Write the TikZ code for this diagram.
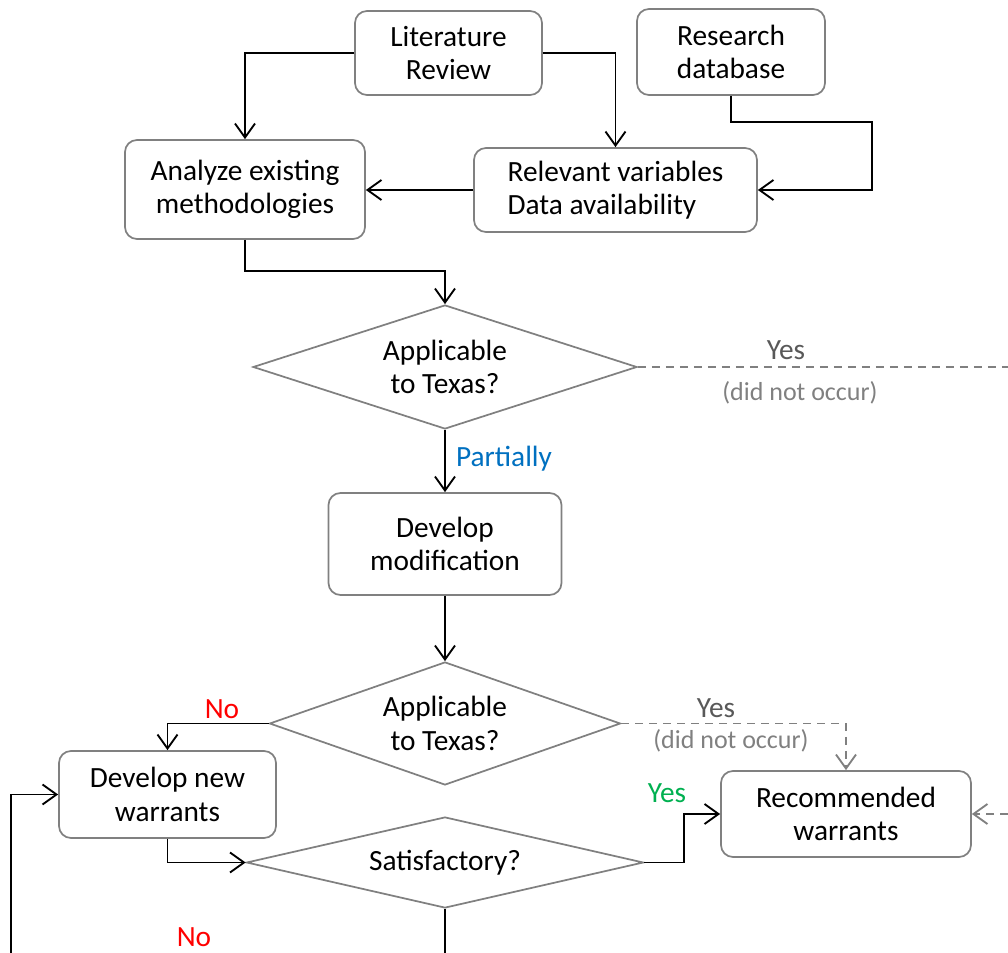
\documentclass[tikz,border=0pt]{standalone}
\usepackage{fontspec}
\setmainfont{Carlito}
\usetikzlibrary{shapes.geometric,arrows.meta}
\definecolor{bordergrey}{RGB}{128,128,128}
\definecolor{darkgrey}{RGB}{89,89,89}
\definecolor{lightgrey}{RGB}{128,128,128}
\definecolor{partblue}{RGB}{0,112,192}
\definecolor{nored}{RGB}{255,0,0}
\definecolor{yesgreen}{RGB}{0,176,80}
\tikzset{
  box/.style={draw=bordergrey, line width=1.3pt, rounded corners=9pt, align=center, inner sep=0pt,
    font=\fontsize{22}{25}\selectfont},
  dia/.style={draw=bordergrey, line width=1.3pt, diamond, shape aspect=3, align=center, inner sep=0pt,
    font=\fontsize{22}{25}\selectfont},
  tip/.style={-{Straight Barb[length=10.5pt,width=15pt,line width=1.4pt]}},
  conn/.style={line width=1.4pt, black, tip},
  plain/.style={line width=1.4pt, black},
  dconn/.style={line width=1.3pt, bordergrey, dash pattern=on 6pt off 4.5pt},
  lbl/.style={font=\fontsize{22}{25}\selectfont, inner sep=0pt},
  slbl/.style={font=\fontsize{19.5}{22}\selectfont, inner sep=0pt, text=lightgrey},
}
\begin{document}
\begin{tikzpicture}[x=0.75pt,y=-0.75pt]
\useasboundingbox (0,0) rectangle (1008,953);
% boxes
\node[box, minimum width=140.25pt, minimum height=63pt] (lit) at (448.5,53) {Literature\\Review};
\node[box, minimum width=141pt, minimum height=64.5pt] (rdb) at (731,52) {Research\\database};
\node[box, minimum width=180pt, minimum height=74.25pt] (ana) at (245,189.5) {Analyze existing\\methodologies};
\node[box, minimum width=212.25pt, minimum height=63pt, align=left] (rel) at (615.5,190) {Relevant variables\\Data availability};
\node[dia, minimum width=288pt, minimum height=93pt] (d1) at (445,367) {Applicable\\to Texas?};
\node[box, minimum width=174.75pt, minimum height=76.5pt] (mod) at (445,544) {Develop\\modification};
\node[dia, minimum width=263.25pt, minimum height=92.25pt] (d2) at (445,723.5) {Applicable\\to Texas?};
\node[box, minimum width=162.75pt, minimum height=65.25pt] (dnw) at (167.5,794.5) {Develop new\\warrants};
\node[dia, minimum width=297.75pt, minimum height=68.25pt] (sat) at (445,862.5) {Satisfactory?};
\node[box, minimum width=187.5pt, minimum height=64.5pt] (rec) at (846,814) {Recommended\\warrants};
% coordinates
\coordinate (c1) at (872,122);
\coordinate (c2) at (445,271);
\coordinate (c3) at (1008,367);
\coordinate (c4) at (445,953);
\coordinate (c5) at (11,953);
\coordinate (c6) at (1008,814);
% connectors
\draw[conn] (lit.west) -| (ana.north);
\draw[conn] (lit.east) -| (rel.north);
\draw[conn] (rdb.south) |- (c1) |- (rel.east);
\draw[conn] (rel.west) -- (rel.west -| ana.east);
\draw[conn] (ana.south) |- (c2) -- (d1.north);
\draw[dconn] (d1.east) -- (c3);
\draw[conn] (d1.south) -- (mod.north);
\draw[conn] (mod.south) -- (d2.north);
\draw[conn] (d2.west) -| (dnw.north);
\draw[dconn, tip] (d2.east) -| (rec.north);
\draw[conn] (dnw.south) |- (sat.west);
\draw[conn] (sat.east) -- ++(40,0) |- (rec.west);
\draw[plain] (sat.south) -- (c4);
\draw[conn] (c5) |- (dnw.west);
\draw[dconn, tip] (c6) -- (rec.east);
% labels
\node[lbl, text=darkgrey] (y1) at (786,350) {Yes};
\node[slbl] (n1) at (800,393) {(did not occur)};
\node[lbl, text=partblue] (p1) at (504,459) {Partially};
\node[lbl, text=nored] (no1) at (222,709) {No};
\node[lbl, text=darkgrey] (y2) at (716,708) {Yes};
\node[slbl] (n2) at (731,741) {(did not occur)};
\node[lbl, text=yesgreen] (y3) at (667,793) {Yes};
\node[lbl, text=nored] (no2) at (194,937) {No};
\end{tikzpicture}
\end{document}
